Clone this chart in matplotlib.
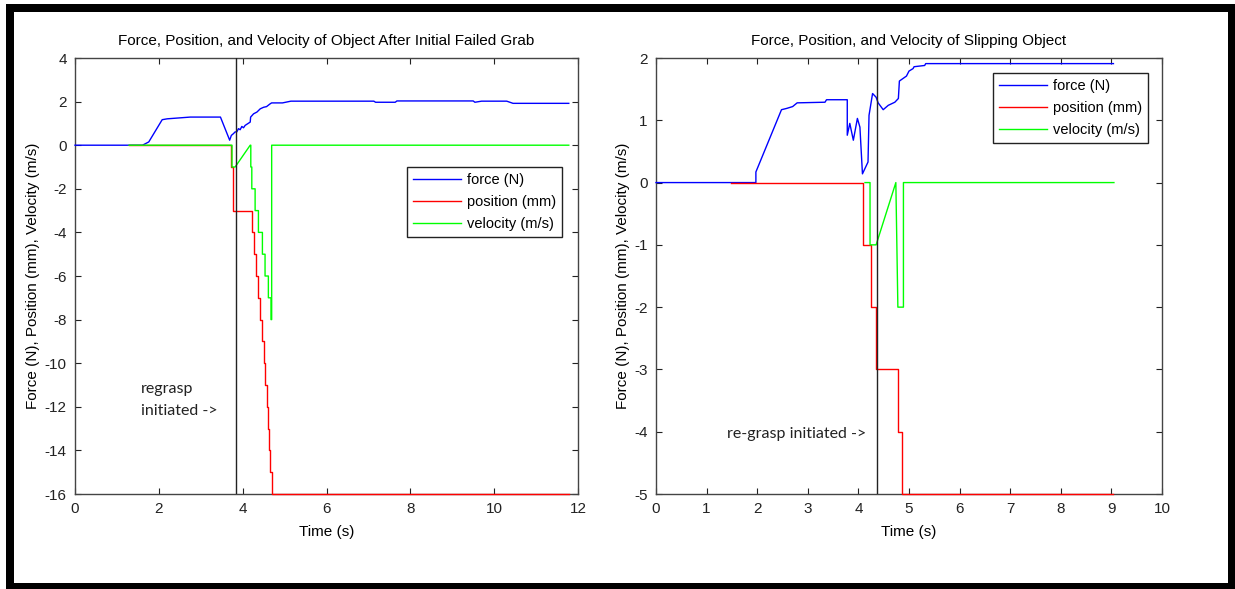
import matplotlib
matplotlib.use('Agg')
import matplotlib.pyplot as plt
from matplotlib.patches import Rectangle
from matplotlib import font_manager

plt.rcParams['axes.unicode_minus'] = False

# ---- left: object after initial failed grab ----
tF_left = [0, 1.61, 1.76, 2.08, 2.2, 2.75, 3.47, 3.69, 3.73, 3.78, 3.82, 3.86, 3.90, 3.94, 3.98, 4.02,
           4.06, 4.18, 4.19, 4.26, 4.34, 4.42, 4.50, 4.57, 4.65, 4.69, 4.95, 5.15, 7.13, 7.17, 7.64,
           7.68, 9.5, 9.54, 9.7, 10.3, 10.45, 11.78]
force_left = [0, 0, 0.15, 1.17, 1.21, 1.29, 1.29, 0.23, 0.45, 0.53, 0.61, 0.61, 0.76, 0.71, 0.86, 0.80,
              0.91, 1.06, 1.29, 1.44, 1.52, 1.67, 1.74, 1.77, 1.89, 1.94, 1.94, 2.02, 2.02, 1.97, 1.97,
              2.03, 2.03, 1.97, 2.02, 2.02, 1.92, 1.92]

tP_left = [1.29, 3.73, 3.78, 4.22, 4.26, 4.31, 4.36, 4.41, 4.45, 4.50, 4.54, 4.58, 4.61, 4.63, 4.65, 4.69, 11.78]
pos_left = [0, -1, -3, -4, -5, -6, -7, -8, -9, -10, -11, -12, -13, -14, -15, -16, -16]

tV_left = [1.29, 3.745, 3.745, 3.82, 4.18, 4.194, 4.194, 4.218, 4.218, 4.297, 4.297, 4.376, 4.376,
           4.471, 4.471, 4.534, 4.534, 4.613, 4.613, 4.676, 4.676, 4.692, 4.692, 11.78]
vel_left = [0, 0, -1, -1, 0, 0, -1, -1, -2, -2, -3, -3, -4,
            -4, -5, -5, -6, -6, -7, -7, -8, -8, 0, 0]
regrasp_left = 3.85

# ---- right: slipping object ----
tF_right = [0, 1.974, 1.974, 2.48, 2.58, 2.70, 2.79, 3.34, 3.37, 3.78, 3.78, 3.83, 3.90, 3.98, 4.03,
            4.08, 4.19, 4.21, 4.28, 4.35, 4.39, 4.49, 4.59, 4.72, 4.79, 4.81, 4.95, 5.0, 5.08, 5.10,
            5.31, 5.33, 9.04]
force_right = [0, 0, 0.17, 1.17, 1.19, 1.22, 1.28, 1.29, 1.33, 1.33, 0.76, 0.95, 0.68, 1.03, 0.89,
               0.14, 0.33, 1.08, 1.43, 1.37, 1.28, 1.17, 1.24, 1.29, 1.35, 1.63, 1.71, 1.79, 1.83, 1.86,
               1.88, 1.91, 1.91]

tP_right = [1.49, 4.10, 4.24, 4.35, 4.79, 4.87, 9.03]
pos_right = [0, -1, -2, -3, -4, -5, -5]

tV_right = [4.13, 4.23, 4.23, 4.35, 4.74, 4.76, 4.78, 4.89, 4.89, 9.05]
vel_right = [0, 0, -1, -1, 0, -1, -2, -2, 0, 0]
regrasp_right = 4.36

titles = ['Force, Position, and Velocity of Object After Initial Failed Grab',
          'Force, Position, and Velocity of Slipping Object']
ylabel = 'Force (N), Position (mm), Velocity (m/s)'
labels = ['force (N)', 'position (mm)', 'velocity (m/s)']

names = {f.name for f in font_manager.fontManager.ttflist}
narrow = 'Liberation Sans Narrow' if 'Liberation Sans Narrow' in names else 'Liberation Sans'

fig = plt.figure(figsize=(12.35, 5.89), dpi=100)

# black frame round the picture
fig.patches.append(Rectangle((6/1235, 0), 1 - 6/1235, 1 - 4/589, transform=fig.transFigure,
                             facecolor='black', edgecolor='none', zorder=-3))
fig.patches.append(Rectangle((14/1235, 6/589), (1228-14)/1235, (583-12)/589, transform=fig.transFigure,
                             facecolor='white', edgecolor='none', zorder=-2))

axL = fig.add_axes([75/1235, 1-494/589, 503/1235, 436/589])
axR = fig.add_axes([656/1235, 1-494/589, 506/1235, 436/589])

panels = [
    (axL, tF_left, force_left, tP_left, pos_left, tV_left, vel_left, regrasp_left,
     (0, 12), range(0, 13, 2), (-16, 4), range(-16, 5, 2), (0.982, 0.766)),
    (axR, tF_right, force_right, tP_right, pos_right, tV_right, vel_right, regrasp_right,
     (0, 10), range(0, 11), (-5, 2), range(-5, 3), (0.986, 0.982)),
]

for k, (ax, tf, f, tp, p, tv, v, xr, xl, xt, yl, yt, lpos) in enumerate(panels):
    ax.plot(tf, f, color='#0000ff', lw=1.0, label=labels[0], zorder=3, clip_on=False)
    ax.plot(tp, p, color='#ff0000', lw=1.0, drawstyle='steps-post', label=labels[1], zorder=3, clip_on=False)
    ax.plot(tv, v, color='#00ff00', lw=1.0, label=labels[2], zorder=3, clip_on=False)
    ax.axvline(xr, color='#222222', lw=1.0, zorder=3)

    ax.set_xlim(*xl)
    ax.set_ylim(*yl)
    ax.set_xticks(list(xt))
    ax.set_yticks(list(yt))
    ax.tick_params(direction='in', top=True, right=True, length=4, width=0.8,
                   labelsize=11, pad=6, colors='#222222')
    for lab in ax.get_xticklabels() + ax.get_yticklabels():
        lab.set_family(narrow)
    for s in ax.spines.values():
        s.set_color('#444444')
        s.set_linewidth(1.0)

    ax.set_title(titles[k], fontsize=11, family=narrow, pad=9)
    ax.set_xlabel('Time (s)', fontsize=11, family=narrow, labelpad=6)
    ax.set_ylabel(ylabel, fontsize=11, family='Liberation Sans', labelpad=3)

    leg = ax.legend(loc='upper right', bbox_to_anchor=lpos, fancybox=False, framealpha=1,
                    edgecolor='#222222', handlelength=3.3,
                    prop={'family': 'Liberation Sans', 'size': 10.5}, borderpad=0.4,
                    labelspacing=0.55, handletextpad=0.4)
    leg.get_frame().set_linewidth(1.0)
    leg.set_zorder(5)

axL.text(1.57, -11.2, 'regrasp', fontsize=11.5, family='Lato', va='center', color='#222222')
axL.text(1.57, -12.2, 'initiated ->', fontsize=11.5, family='Lato', va='center', color='#222222')
axR.text(1.40, -4.04, 're-grasp initiated ->', fontsize=11.5, family='Lato', va='center', color='#222222')

fig.savefig('out.png', dpi=100)
